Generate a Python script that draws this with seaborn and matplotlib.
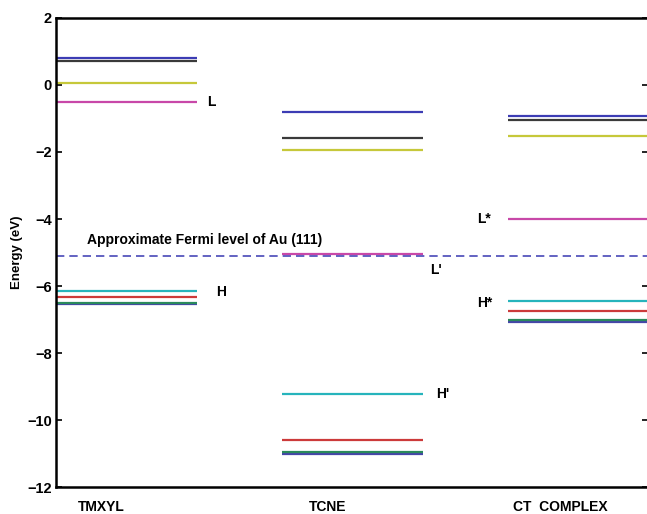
import pandas as pd
import seaborn as sns
import matplotlib
matplotlib.use("Agg")
import matplotlib.pyplot as plt

sns.set_style("white")
plt.rcParams['font.family'] = ['Liberation Sans', 'DejaVu Sans']
plt.rcParams['text.color'] = 'black'
plt.rcParams['axes.labelcolor'] = 'black'
plt.rcParams['xtick.color'] = 'black'
plt.rcParams['ytick.color'] = 'black'

# orbital energies (eV)
molecules = ["TMXYL", "TCNE", "CT  COMPLEX"]
tmxyl_e = [0.80, 0.72, 0.05, -0.50, -6.15, -6.32, -6.55, -6.50]
tcne_e = [-0.82, -1.59, -1.93, -5.05, -9.23, -10.60, -11.00, -10.96]
ct_e = [-0.93, -1.04, -1.51, -4.00, -6.45, -6.74, -7.06, -7.01]
orbital = ["blue_u", "black", "yellow", "magenta", "cyan", "red", "blue_l", "green"]
fermi = -5.1

pal = {"blue_u": "#3c3cb4", "black": "#3a3a3a", "yellow": "#c6c83a",
       "magenta": "#c848a8", "cyan": "#26b4bc", "red": "#cc3a3a",
       "blue_l": "#4646a8", "green": "#2a8a5c"}

df = pd.DataFrame({
    "molecule": sum([[m] * len(orbital) for m in molecules], []),
    "orbital": orbital * 3,
    "energy": tmxyl_e + tcne_e + ct_e,
})
df["pos"] = df["molecule"].map({m: i for i, m in enumerate(molecules)})

fig = plt.figure(figsize=(6.47, 5.14), dpi=100)
ax = fig.add_axes([0.0866, 0.0525, 0.915, 0.9125])

width = 0.624
for _, r in df.iterrows():
    ax.hlines(r["energy"], r["pos"], r["pos"] + width,
              color=pal[r["orbital"]], lw=1.6)

ax.axhline(fermi, color="#4848b8", lw=1.2, ls=(0, (5, 3)))
ax.text(0.137, -4.63, "Approximate Fermi level of Au (111)", fontsize=10,
        fontweight="bold", va="center")

labels = [(0.668, -0.52, "L"), (0.71, -6.18, "H"), (1.655, -5.52, "L'"),
          (1.68, -9.22, "H'"), (1.865, -4.0, "L*"), (1.865, -6.5, "H*")]
for x, y, s in labels:
    ax.text(x, y, s, fontsize=10, fontweight="bold", va="center")

ax.set_xlim(0, 2.619)
ax.set_ylim(-12, 2)
ax.set_yticks(range(-12, 3, 2))
ax.set_yticklabels(["\u2212%d" % -v if v < 0 else str(v) for v in range(-12, 3, 2)],
                   fontweight="bold")
ax.set_xticks([0.2, 1.2, 2.23])
ax.set_xticklabels(molecules, fontweight="bold")
ax.tick_params(axis="x", length=0, pad=9, labelsize=10)
ax.tick_params(axis="y", direction="in", length=4, width=1.2, right=True,
               left=True, labelsize=10.5, pad=3)
ax.set_ylabel("Energy (eV)", fontsize=9.5, fontweight="bold", labelpad=3)

for s in ["left", "top", "bottom"]:
    ax.spines[s].set_linewidth(1.8)
    ax.spines[s].set_color("black")
ax.spines["right"].set_visible(False)

fig.savefig("out.png", dpi=100)
